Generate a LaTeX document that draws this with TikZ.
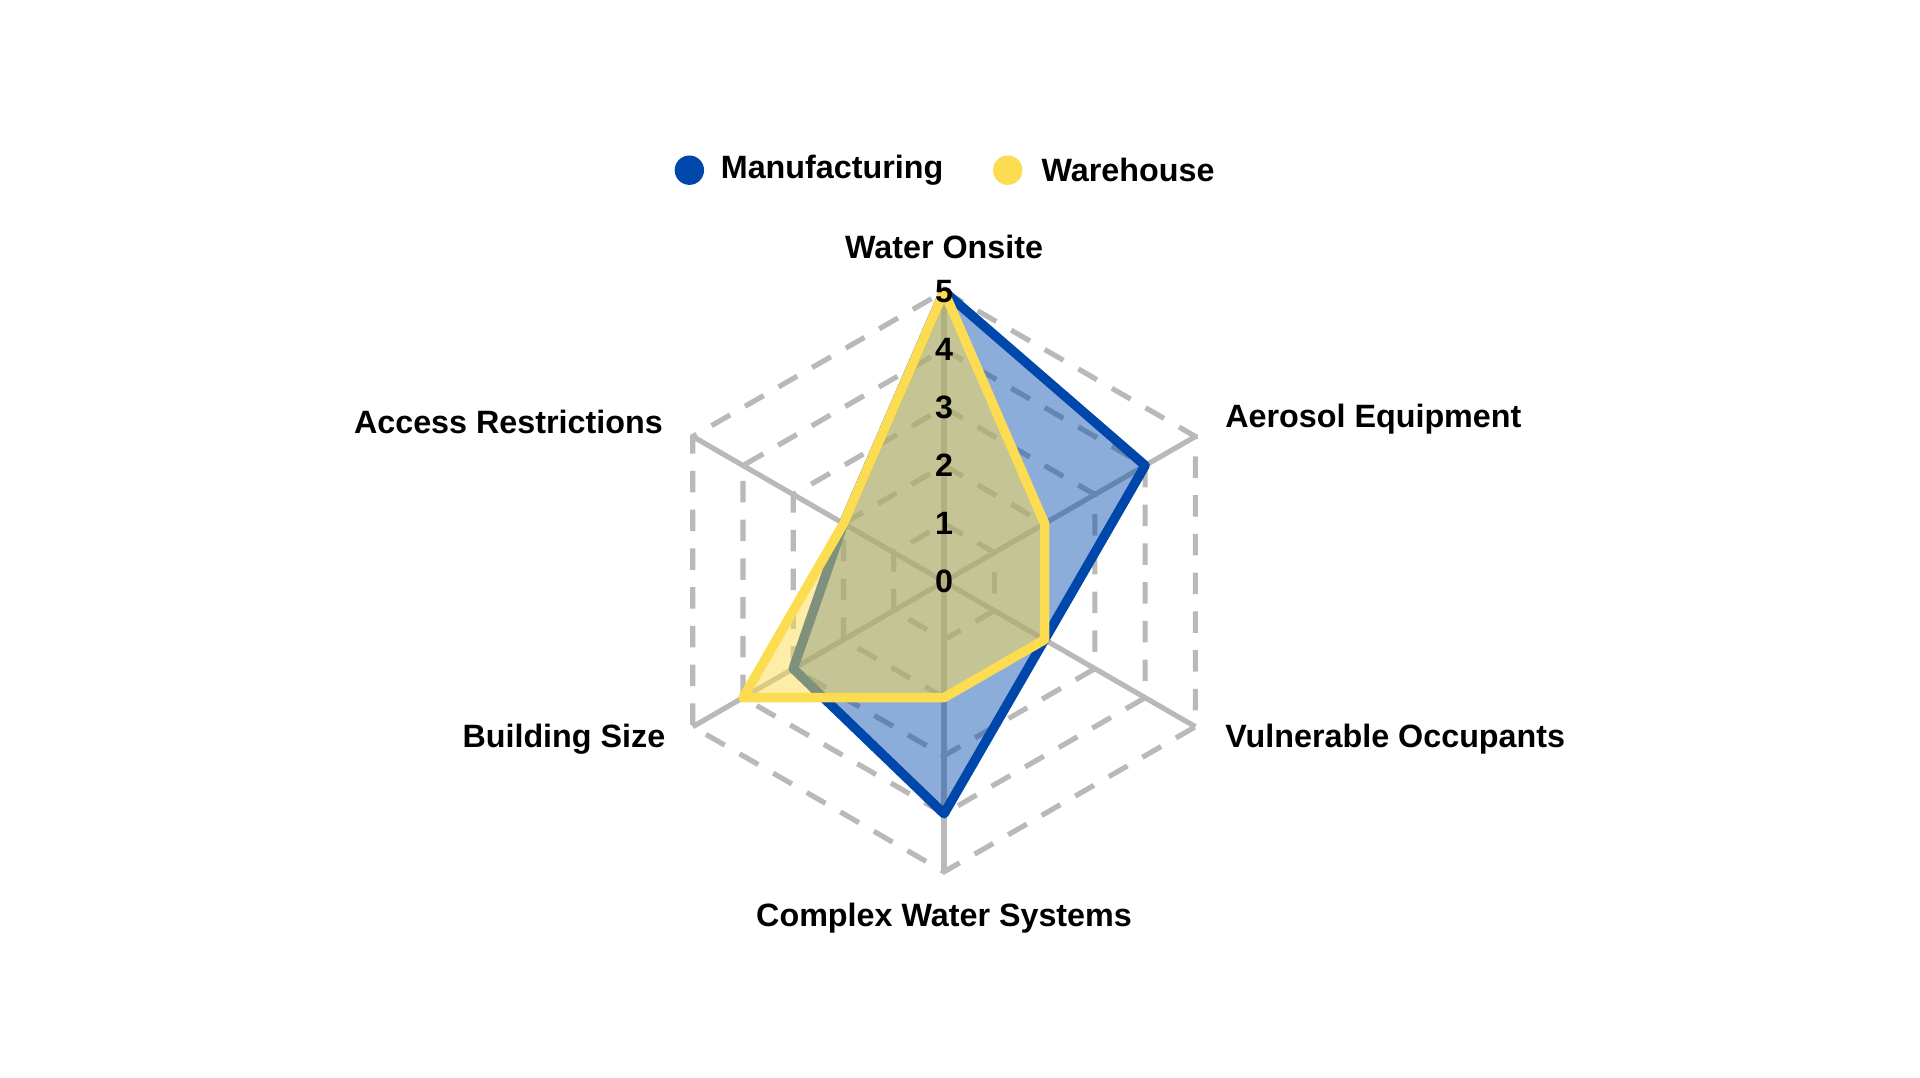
\documentclass[tikz,border=0pt]{standalone}
\usepackage{fontspec}
\setmainfont{Liberation Sans}
\definecolor{manublue}{RGB}{0,71,171}
\definecolor{whyellow}{RGB}{252,220,80}
\tikzset{
  gridline/.style={gray!55, line width=1.2pt, dashed, dash pattern=on 5pt off 4pt},
  spoke/.style={gray!55, line width=1.2pt},
  axislabel/.style={font=\bfseries\fontsize{7.5pt}{9pt}\selectfont, inner sep=0pt},
  ticklabel/.style={font=\bfseries\fontsize{7.5pt}{9pt}\selectfont, inner sep=0pt}
}
\begin{document}
\begin{tikzpicture}[x=0.01cm, y=0.01cm]
  \useasboundingbox (-771,-405) rectangle (797,475);
  \fill[white] (-771,-405) rectangle (797,475);
  % grid
  \foreach \lvl in {1,...,5}
    \draw[gridline] (90:47.4*\lvl) -- (30:47.4*\lvl) -- (-30:47.4*\lvl)
      -- (-90:47.4*\lvl) -- (210:47.4*\lvl) -- (150:47.4*\lvl) -- cycle;
  \coordinate (O) at (0,0);
  \foreach \ang/\name in {90/water, 30/aerosol, -30/vuln, -90/complex, 210/building, 150/access}
    \coordinate (\name) at (\ang:237);
  \foreach \name in {water, aerosol, vuln, complex, building, access}
    \draw[spoke] (O) -- (\name);
  % series
  \draw[manublue, line width=2.2pt, line join=round, fill=manublue, fill opacity=0.45]
    (90:237) -- (30:189.6) -- (-30:94.8) -- (-90:189.6) -- (210:142.2) -- (150:94.8) -- cycle;
  \draw[whyellow, line width=2.2pt, line join=round, fill=whyellow, fill opacity=0.5]
    (90:237) -- (30:94.8) -- (-30:94.8) -- (-90:94.8) -- (210:189.6) -- (150:94.8) -- cycle;
  % ticks
  \foreach \lvl in {0,...,5}
    \node[ticklabel] (t\lvl) at (0,47.4*\lvl) {\lvl};
  % axis labels
  \node[axislabel] (lwater) at (0,273) {Water Onsite};
  \node[axislabel, anchor=west] (laero) at (229,133) {Aerosol Equipment};
  \node[axislabel, anchor=west] (lvuln) at (229,-129) {Vulnerable Occupants};
  \node[axislabel] (lcomplex) at (0,-275) {Complex Water Systems};
  \node[axislabel, anchor=east] (lbuild) at (-227,-129) {Building Size};
  \node[axislabel, anchor=east] (lacc) at (-229,130) {Access Restrictions};
  % legend
  \fill[manublue] (-208,336) circle (12);
  \node[axislabel, anchor=west] (legmanu) at (-183,336) {Manufacturing};
  \fill[whyellow] (52,336) circle (12);
  \node[axislabel, anchor=west] (legware) at (79,336) {Warehouse};
\end{tikzpicture}
\end{document}
